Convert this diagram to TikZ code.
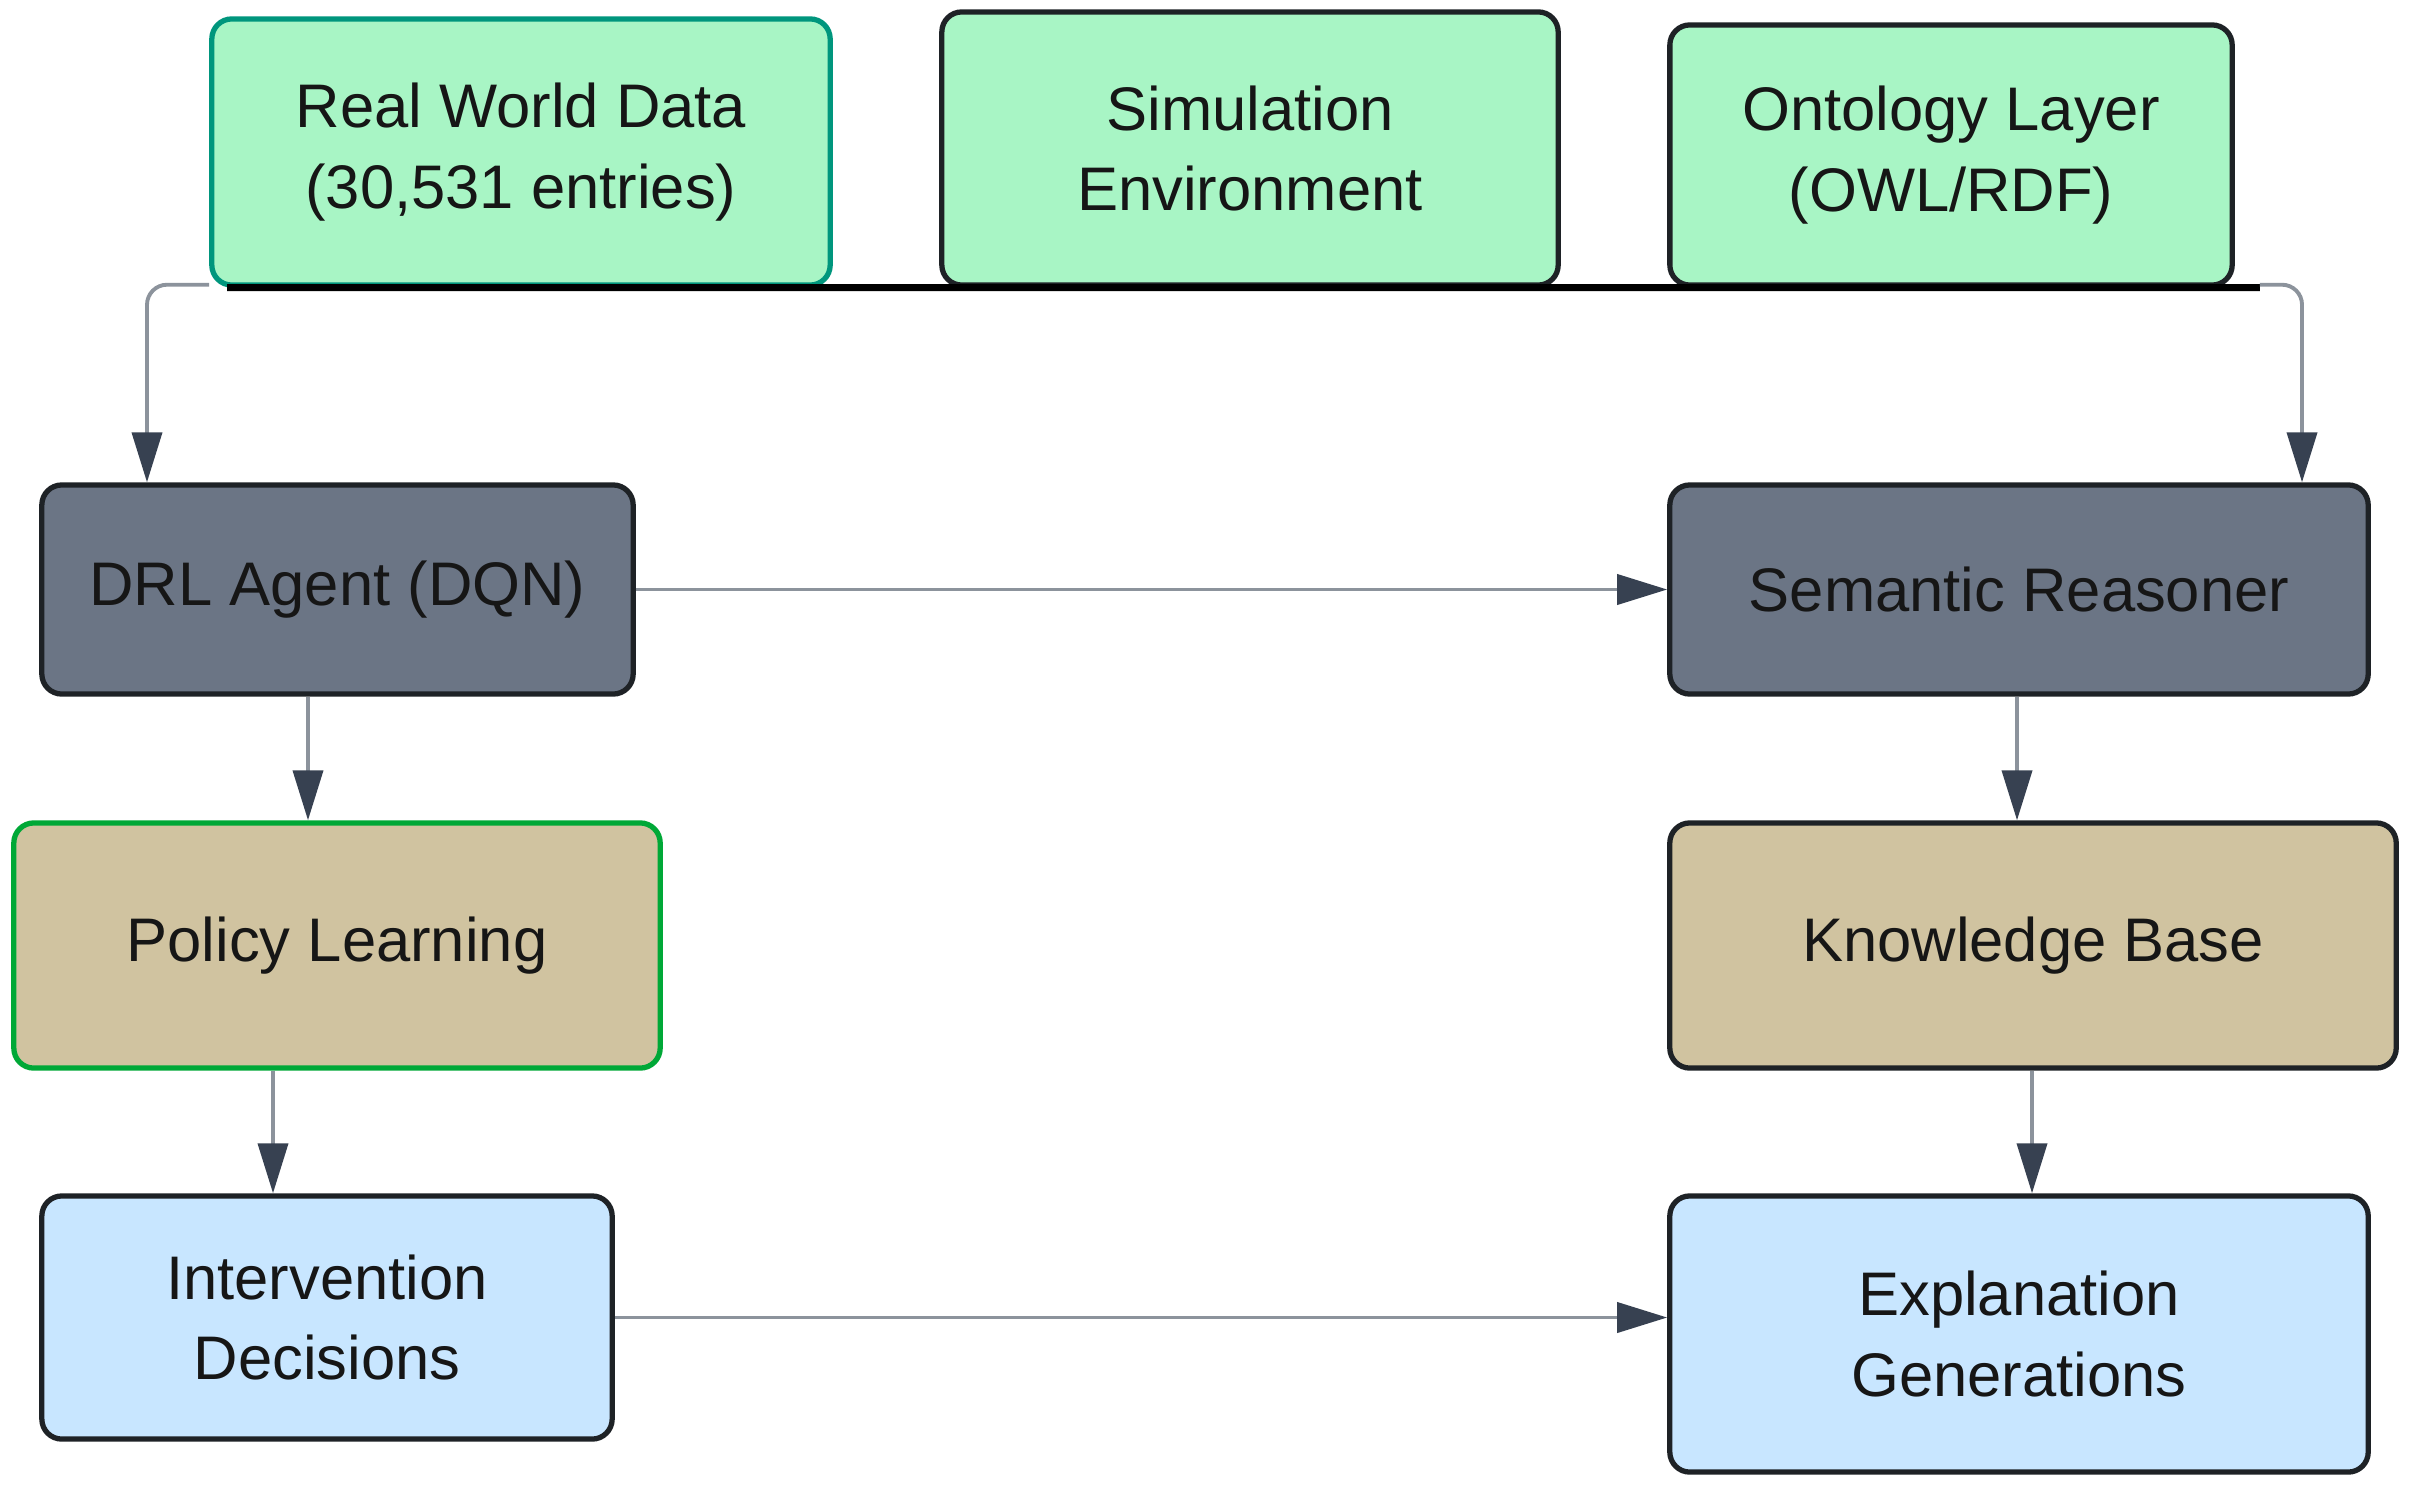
\documentclass[tikz,border=0pt]{standalone}
\usepackage{fontspec}
\setmainfont{Liberation Sans}
\usetikzlibrary{arrows.meta,calc}
\definecolor{mint}{RGB}{168,245,197}
\definecolor{tealb}{RGB}{0,150,125}
\definecolor{greenb}{RGB}{0,168,55}
\definecolor{slatef}{RGB}{107,117,133}
\definecolor{tanf}{RGB}{208,195,160}
\definecolor{bluef}{RGB}{200,230,255}
\definecolor{bdark}{RGB}{30,34,38}
\definecolor{lgray}{RGB}{140,147,156}
\definecolor{ahead}{RGB}{55,65,81}
\definecolor{txt}{RGB}{22,22,22}
\begin{document}
\begin{tikzpicture}[x=0.01cm,y=-0.01cm,
  box/.style={draw=bdark, line width=1.5pt, rounded corners=0.2cm, align=center,
    text=txt, font=\fontsize{17.5}{23}\selectfont, inner sep=0pt},
  conn/.style={draw=lgray, line width=1.1pt, rounded corners=0.2cm,
    -{Triangle[length=0.5cm,width=0.3cm,color=ahead]}}]
\useasboundingbox[fill=white] (0,0) rectangle (2416,1491);
% top row
\node[box, fill=mint, draw=tealb, minimum width=6.18cm, minimum height=2.66cm] (rwd) at (521,152) {Real World Data\\(30,531 entries)};
\node[box, fill=mint, minimum width=6.16cm, minimum height=2.73cm] (sim) at (1250,148.5) {Simulation\\Environment};
\node[box, fill=mint, minimum width=5.62cm, minimum height=2.60cm] (ont) at (1951,155) {Ontology Layer\\(OWL/RDF)};
% second row
\node[box, fill=slatef, minimum width=5.91cm, minimum height=2.09cm] (drl) at (337.5,589.5) {DRL Agent (DQN)};
\node[box, fill=slatef, minimum width=6.98cm, minimum height=2.09cm] (sr) at (2019,589.5) {Semantic Reasoner};
% third row
\node[box, fill=tanf, draw=greenb, minimum width=6.46cm, minimum height=2.45cm] (pol) at (337,945.5) {Policy Learning};
\node[box, fill=tanf, minimum width=7.26cm, minimum height=2.45cm] (kb) at (2033,945.5) {Knowledge Base};
% fourth row
\node[box, fill=bluef, minimum width=5.70cm, minimum height=2.43cm] (int) at (327,1317.5) {Intervention\\Decisions};
\node[box, fill=bluef, minimum width=6.98cm, minimum height=2.76cm] (exp) at (2019,1334) {Explanation\\Generations};
% helper columns
\coordinate (lx) at (147,0);
\coordinate (rx) at (2302,0);
\coordinate (c1) at (308,0);
\coordinate (c2) at (273,0);
\coordinate (c3) at (2017,0);
\coordinate (c4) at (2032,0);
% black baseline under the top row
\draw[black, line width=2pt] ($(rwd.south west)+(18,0)$) -- ($(ont.south east)+(25,0)$);
% connectors
\draw[conn] ($(rwd.south west)+(0,-3)$) -| (lx |- drl.north);
\draw[conn] ($(ont.south east)+(25,-3)$) -| (rx |- sr.north);
\draw[conn] (drl.east) -- (sr.west);
\draw[conn] (c1 |- drl.south) -- (c1 |- pol.north);
\draw[conn] (c2 |- pol.south) -- (c2 |- int.north);
\draw[conn] (c3 |- sr.south) -- (c3 |- kb.north);
\draw[conn] (c4 |- kb.south) -- (c4 |- exp.north);
\draw[conn] (int.east) -- (int.east -| exp.west);
\end{tikzpicture}
\end{document}
